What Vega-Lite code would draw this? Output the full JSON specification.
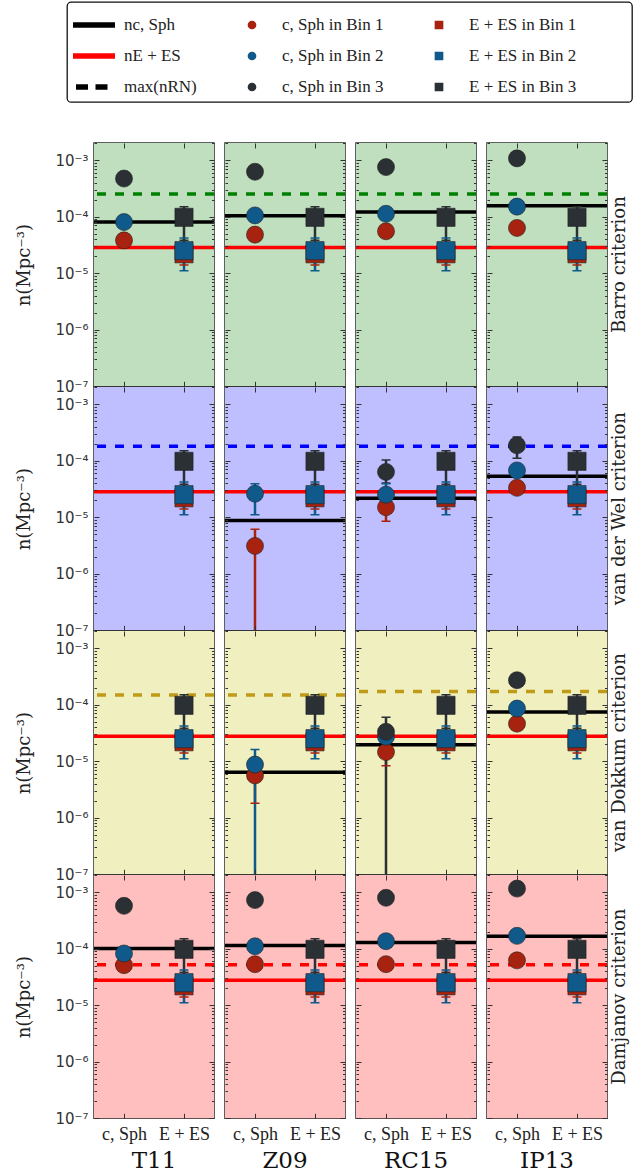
{
  "$schema": "https://vega.github.io/schema/vega-lite/v6.json",
  "background": "white",
  "padding": {"left": 15, "top": 1, "right": 0, "bottom": 0},
  "bounds": "flush",
  "data": {"values": [
    {"k":"bg","c":"Barro criterion","s":"T11"},{"k":"bg","c":"Barro criterion","s":"Z09"},{"k":"bg","c":"Barro criterion","s":"RC15"},{"k":"bg","c":"Barro criterion","s":"IP13"},
    {"k":"bg","c":"van der Wel criterion","s":"T11"},{"k":"bg","c":"van der Wel criterion","s":"Z09"},{"k":"bg","c":"van der Wel criterion","s":"RC15"},{"k":"bg","c":"van der Wel criterion","s":"IP13"},
    {"k":"bg","c":"van Dokkum criterion","s":"T11"},{"k":"bg","c":"van Dokkum criterion","s":"Z09"},{"k":"bg","c":"van Dokkum criterion","s":"RC15"},{"k":"bg","c":"van Dokkum criterion","s":"IP13"},
    {"k":"bg","c":"Damjanov criterion","s":"T11"},{"k":"bg","c":"Damjanov criterion","s":"Z09"},{"k":"bg","c":"Damjanov criterion","s":"RC15"},{"k":"bg","c":"Damjanov criterion","s":"IP13"},

    {"k":"ln","c":"Barro criterion","s":"T11","b":"max(nRN)","n":2.5e-4},{"k":"ln","c":"Barro criterion","s":"Z09","b":"max(nRN)","n":2.5e-4},{"k":"ln","c":"Barro criterion","s":"RC15","b":"max(nRN)","n":2.5e-4},{"k":"ln","c":"Barro criterion","s":"IP13","b":"max(nRN)","n":2.5e-4},
    {"k":"ln","c":"van der Wel criterion","s":"T11","b":"max(nRN)","n":1.8e-4},{"k":"ln","c":"van der Wel criterion","s":"Z09","b":"max(nRN)","n":1.8e-4},{"k":"ln","c":"van der Wel criterion","s":"RC15","b":"max(nRN)","n":1.8e-4},{"k":"ln","c":"van der Wel criterion","s":"IP13","b":"max(nRN)","n":1.8e-4},
    {"k":"ln","c":"van Dokkum criterion","s":"T11","b":"max(nRN)","n":1.48e-4},{"k":"ln","c":"van Dokkum criterion","s":"Z09","b":"max(nRN)","n":1.48e-4},{"k":"ln","c":"van Dokkum criterion","s":"RC15","b":"max(nRN)","n":1.7e-4},{"k":"ln","c":"van Dokkum criterion","s":"IP13","b":"max(nRN)","n":1.7e-4},
    {"k":"ln","c":"Damjanov criterion","s":"T11","b":"max(nRN)","n":5.2e-5},{"k":"ln","c":"Damjanov criterion","s":"Z09","b":"max(nRN)","n":5.2e-5},{"k":"ln","c":"Damjanov criterion","s":"RC15","b":"max(nRN)","n":5.2e-5},{"k":"ln","c":"Damjanov criterion","s":"IP13","b":"max(nRN)","n":5.2e-5},

    {"k":"ln","c":"Barro criterion","s":"T11","b":"nE + ES","n":2.85e-5},{"k":"ln","c":"Barro criterion","s":"Z09","b":"nE + ES","n":2.85e-5},{"k":"ln","c":"Barro criterion","s":"RC15","b":"nE + ES","n":2.85e-5},{"k":"ln","c":"Barro criterion","s":"IP13","b":"nE + ES","n":2.85e-5},
    {"k":"ln","c":"van der Wel criterion","s":"T11","b":"nE + ES","n":2.8e-5},{"k":"ln","c":"van der Wel criterion","s":"Z09","b":"nE + ES","n":2.8e-5},{"k":"ln","c":"van der Wel criterion","s":"RC15","b":"nE + ES","n":2.8e-5},{"k":"ln","c":"van der Wel criterion","s":"IP13","b":"nE + ES","n":2.8e-5},
    {"k":"ln","c":"van Dokkum criterion","s":"T11","b":"nE + ES","n":2.75e-5},{"k":"ln","c":"van Dokkum criterion","s":"Z09","b":"nE + ES","n":2.75e-5},{"k":"ln","c":"van Dokkum criterion","s":"RC15","b":"nE + ES","n":2.75e-5},{"k":"ln","c":"van Dokkum criterion","s":"IP13","b":"nE + ES","n":2.75e-5},
    {"k":"ln","c":"Damjanov criterion","s":"T11","b":"nE + ES","n":2.75e-5},{"k":"ln","c":"Damjanov criterion","s":"Z09","b":"nE + ES","n":2.75e-5},{"k":"ln","c":"Damjanov criterion","s":"RC15","b":"nE + ES","n":2.75e-5},{"k":"ln","c":"Damjanov criterion","s":"IP13","b":"nE + ES","n":2.75e-5},

    {"k":"ln","c":"Barro criterion","s":"T11","b":"nc, Sph","n":8.0e-5},{"k":"ln","c":"Barro criterion","s":"Z09","b":"nc, Sph","n":1.03e-4},{"k":"ln","c":"Barro criterion","s":"RC15","b":"nc, Sph","n":1.2e-4},{"k":"ln","c":"Barro criterion","s":"IP13","b":"nc, Sph","n":1.55e-4},
    {"k":"ln","c":"van der Wel criterion","s":"Z09","b":"nc, Sph","n":8.7e-6},{"k":"ln","c":"van der Wel criterion","s":"RC15","b":"nc, Sph","n":2.15e-5},{"k":"ln","c":"van der Wel criterion","s":"IP13","b":"nc, Sph","n":5.3e-5},
    {"k":"ln","c":"van Dokkum criterion","s":"Z09","b":"nc, Sph","n":6.4e-6},{"k":"ln","c":"van Dokkum criterion","s":"RC15","b":"nc, Sph","n":1.95e-5},{"k":"ln","c":"van Dokkum criterion","s":"IP13","b":"nc, Sph","n":7.4e-5},
    {"k":"ln","c":"Damjanov criterion","s":"T11","b":"nc, Sph","n":1.0e-4},{"k":"ln","c":"Damjanov criterion","s":"Z09","b":"nc, Sph","n":1.14e-4},{"k":"ln","c":"Damjanov criterion","s":"RC15","b":"nc, Sph","n":1.28e-4},{"k":"ln","c":"Damjanov criterion","s":"IP13","b":"nc, Sph","n":1.65e-4},

    {"k":"pt","c":"Barro criterion","s":"T11","g":"c, Sph","b":"c, Sph in Bin 1","n":3.8e-5},
    {"k":"pt","c":"Barro criterion","s":"T11","g":"c, Sph","b":"c, Sph in Bin 2","n":8.0e-5},
    {"k":"pt","c":"Barro criterion","s":"T11","g":"c, Sph","b":"c, Sph in Bin 3","n":4.7e-4},
    {"k":"pt","c":"Barro criterion","s":"Z09","g":"c, Sph","b":"c, Sph in Bin 1","n":4.8e-5},
    {"k":"pt","c":"Barro criterion","s":"Z09","g":"c, Sph","b":"c, Sph in Bin 2","n":1.05e-4},
    {"k":"pt","c":"Barro criterion","s":"Z09","g":"c, Sph","b":"c, Sph in Bin 3","n":6.2e-4},
    {"k":"pt","c":"Barro criterion","s":"RC15","g":"c, Sph","b":"c, Sph in Bin 1","n":5.5e-5},
    {"k":"pt","c":"Barro criterion","s":"RC15","g":"c, Sph","b":"c, Sph in Bin 2","n":1.12e-4},
    {"k":"pt","c":"Barro criterion","s":"RC15","g":"c, Sph","b":"c, Sph in Bin 3","n":7.5e-4},
    {"k":"pt","c":"Barro criterion","s":"IP13","g":"c, Sph","b":"c, Sph in Bin 1","n":6.3e-5},
    {"k":"pt","c":"Barro criterion","s":"IP13","g":"c, Sph","b":"c, Sph in Bin 2","n":1.5e-4},
    {"k":"pt","c":"Barro criterion","s":"IP13","g":"c, Sph","b":"c, Sph in Bin 3","n":1.07e-3},

    {"k":"pt","c":"van der Wel criterion","s":"Z09","g":"c, Sph","b":"c, Sph in Bin 1","n":3.1e-6,"lo":5e-8,"hi":6.1e-6},
    {"k":"pt","c":"van der Wel criterion","s":"Z09","g":"c, Sph","b":"c, Sph in Bin 2","n":2.6e-5,"lo":1.1e-5,"hi":3.9e-5},
    {"k":"pt","c":"van der Wel criterion","s":"RC15","g":"c, Sph","b":"c, Sph in Bin 1","n":1.5e-5,"lo":8.5e-6,"hi":2.3e-5},
    {"k":"pt","c":"van der Wel criterion","s":"RC15","g":"c, Sph","b":"c, Sph in Bin 2","n":2.5e-5,"lo":1.6e-5,"hi":3.9e-5},
    {"k":"pt","c":"van der Wel criterion","s":"RC15","g":"c, Sph","b":"c, Sph in Bin 3","n":6.3e-5,"lo":4.0e-5,"hi":1.02e-4},
    {"k":"pt","c":"van der Wel criterion","s":"IP13","g":"c, Sph","b":"c, Sph in Bin 1","n":3.3e-5},
    {"k":"pt","c":"van der Wel criterion","s":"IP13","g":"c, Sph","b":"c, Sph in Bin 2","n":6.7e-5},
    {"k":"pt","c":"van der Wel criterion","s":"IP13","g":"c, Sph","b":"c, Sph in Bin 3","n":1.86e-4,"lo":1.1e-4,"hi":2.6e-4},

    {"k":"pt","c":"van Dokkum criterion","s":"Z09","g":"c, Sph","b":"c, Sph in Bin 1","n":5.6e-6,"lo":1.8e-6,"hi":1.0e-5},
    {"k":"pt","c":"van Dokkum criterion","s":"Z09","g":"c, Sph","b":"c, Sph in Bin 2","n":8.7e-6,"lo":5e-8,"hi":1.6e-5},
    {"k":"pt","c":"van Dokkum criterion","s":"RC15","g":"c, Sph","b":"c, Sph in Bin 1","n":1.45e-5,"lo":8.3e-6,"hi":2.2e-5},
    {"k":"pt","c":"van Dokkum criterion","s":"RC15","g":"c, Sph","b":"c, Sph in Bin 2","n":2.7e-5},
    {"k":"pt","c":"van Dokkum criterion","s":"RC15","g":"c, Sph","b":"c, Sph in Bin 3","n":3.3e-5,"lo":5e-8,"hi":6.0e-5},
    {"k":"pt","c":"van Dokkum criterion","s":"IP13","g":"c, Sph","b":"c, Sph in Bin 1","n":4.6e-5},
    {"k":"pt","c":"van Dokkum criterion","s":"IP13","g":"c, Sph","b":"c, Sph in Bin 2","n":8.5e-5},
    {"k":"pt","c":"van Dokkum criterion","s":"IP13","g":"c, Sph","b":"c, Sph in Bin 3","n":2.7e-4},

    {"k":"pt","c":"Damjanov criterion","s":"T11","g":"c, Sph","b":"c, Sph in Bin 1","n":5.1e-5},
    {"k":"pt","c":"Damjanov criterion","s":"T11","g":"c, Sph","b":"c, Sph in Bin 2","n":8.2e-5},
    {"k":"pt","c":"Damjanov criterion","s":"T11","g":"c, Sph","b":"c, Sph in Bin 3","n":5.7e-4},
    {"k":"pt","c":"Damjanov criterion","s":"Z09","g":"c, Sph","b":"c, Sph in Bin 1","n":5.3e-5},
    {"k":"pt","c":"Damjanov criterion","s":"Z09","g":"c, Sph","b":"c, Sph in Bin 2","n":1.1e-4},
    {"k":"pt","c":"Damjanov criterion","s":"Z09","g":"c, Sph","b":"c, Sph in Bin 3","n":7.2e-4},
    {"k":"pt","c":"Damjanov criterion","s":"RC15","g":"c, Sph","b":"c, Sph in Bin 1","n":5.3e-5},
    {"k":"pt","c":"Damjanov criterion","s":"RC15","g":"c, Sph","b":"c, Sph in Bin 2","n":1.35e-4},
    {"k":"pt","c":"Damjanov criterion","s":"RC15","g":"c, Sph","b":"c, Sph in Bin 3","n":7.9e-4},
    {"k":"pt","c":"Damjanov criterion","s":"IP13","g":"c, Sph","b":"c, Sph in Bin 1","n":6.2e-5},
    {"k":"pt","c":"Damjanov criterion","s":"IP13","g":"c, Sph","b":"c, Sph in Bin 2","n":1.68e-4},
    {"k":"pt","c":"Damjanov criterion","s":"IP13","g":"c, Sph","b":"c, Sph in Bin 3","n":1.15e-3},

    {"k":"pt","c":"Barro criterion","s":"T11","g":"E + ES","b":"E + ES in Bin 1","n":2.2e-5,"lo":1.4e-5,"hi":3.2e-5},{"k":"pt","c":"Barro criterion","s":"T11","g":"E + ES","b":"E + ES in Bin 2","n":2.5e-5,"lo":1.1e-5,"hi":4.2e-5},{"k":"pt","c":"Barro criterion","s":"T11","g":"E + ES","b":"E + ES in Bin 3","n":9.7e-5,"lo":3.8e-5,"hi":1.5e-4},
    {"k":"pt","c":"Barro criterion","s":"Z09","g":"E + ES","b":"E + ES in Bin 1","n":2.2e-5,"lo":1.4e-5,"hi":3.2e-5},{"k":"pt","c":"Barro criterion","s":"Z09","g":"E + ES","b":"E + ES in Bin 2","n":2.5e-5,"lo":1.1e-5,"hi":4.2e-5},{"k":"pt","c":"Barro criterion","s":"Z09","g":"E + ES","b":"E + ES in Bin 3","n":9.7e-5,"lo":3.8e-5,"hi":1.5e-4},
    {"k":"pt","c":"Barro criterion","s":"RC15","g":"E + ES","b":"E + ES in Bin 1","n":2.2e-5,"lo":1.4e-5,"hi":3.2e-5},{"k":"pt","c":"Barro criterion","s":"RC15","g":"E + ES","b":"E + ES in Bin 2","n":2.5e-5,"lo":1.1e-5,"hi":4.2e-5},{"k":"pt","c":"Barro criterion","s":"RC15","g":"E + ES","b":"E + ES in Bin 3","n":9.7e-5,"lo":3.8e-5,"hi":1.5e-4},
    {"k":"pt","c":"Barro criterion","s":"IP13","g":"E + ES","b":"E + ES in Bin 1","n":2.2e-5,"lo":1.4e-5,"hi":3.2e-5},{"k":"pt","c":"Barro criterion","s":"IP13","g":"E + ES","b":"E + ES in Bin 2","n":2.5e-5,"lo":1.1e-5,"hi":4.2e-5},{"k":"pt","c":"Barro criterion","s":"IP13","g":"E + ES","b":"E + ES in Bin 3","n":9.7e-5,"lo":3.8e-5,"hi":1.5e-4},
    {"k":"pt","c":"van der Wel criterion","s":"T11","g":"E + ES","b":"E + ES in Bin 1","n":2.2e-5,"lo":1.4e-5,"hi":3.2e-5},{"k":"pt","c":"van der Wel criterion","s":"T11","g":"E + ES","b":"E + ES in Bin 2","n":2.5e-5,"lo":1.1e-5,"hi":4.2e-5},{"k":"pt","c":"van der Wel criterion","s":"T11","g":"E + ES","b":"E + ES in Bin 3","n":9.7e-5,"lo":3.8e-5,"hi":1.5e-4},
    {"k":"pt","c":"van der Wel criterion","s":"Z09","g":"E + ES","b":"E + ES in Bin 1","n":2.2e-5,"lo":1.4e-5,"hi":3.2e-5},{"k":"pt","c":"van der Wel criterion","s":"Z09","g":"E + ES","b":"E + ES in Bin 2","n":2.5e-5,"lo":1.1e-5,"hi":4.2e-5},{"k":"pt","c":"van der Wel criterion","s":"Z09","g":"E + ES","b":"E + ES in Bin 3","n":9.7e-5,"lo":3.8e-5,"hi":1.5e-4},
    {"k":"pt","c":"van der Wel criterion","s":"RC15","g":"E + ES","b":"E + ES in Bin 1","n":2.2e-5,"lo":1.4e-5,"hi":3.2e-5},{"k":"pt","c":"van der Wel criterion","s":"RC15","g":"E + ES","b":"E + ES in Bin 2","n":2.5e-5,"lo":1.1e-5,"hi":4.2e-5},{"k":"pt","c":"van der Wel criterion","s":"RC15","g":"E + ES","b":"E + ES in Bin 3","n":9.7e-5,"lo":3.8e-5,"hi":1.5e-4},
    {"k":"pt","c":"van der Wel criterion","s":"IP13","g":"E + ES","b":"E + ES in Bin 1","n":2.2e-5,"lo":1.4e-5,"hi":3.2e-5},{"k":"pt","c":"van der Wel criterion","s":"IP13","g":"E + ES","b":"E + ES in Bin 2","n":2.5e-5,"lo":1.1e-5,"hi":4.2e-5},{"k":"pt","c":"van der Wel criterion","s":"IP13","g":"E + ES","b":"E + ES in Bin 3","n":9.7e-5,"lo":3.8e-5,"hi":1.5e-4},
    {"k":"pt","c":"van Dokkum criterion","s":"T11","g":"E + ES","b":"E + ES in Bin 1","n":2.2e-5,"lo":1.4e-5,"hi":3.2e-5},{"k":"pt","c":"van Dokkum criterion","s":"T11","g":"E + ES","b":"E + ES in Bin 2","n":2.5e-5,"lo":1.1e-5,"hi":4.2e-5},{"k":"pt","c":"van Dokkum criterion","s":"T11","g":"E + ES","b":"E + ES in Bin 3","n":9.7e-5,"lo":3.8e-5,"hi":1.5e-4},
    {"k":"pt","c":"van Dokkum criterion","s":"Z09","g":"E + ES","b":"E + ES in Bin 1","n":2.2e-5,"lo":1.4e-5,"hi":3.2e-5},{"k":"pt","c":"van Dokkum criterion","s":"Z09","g":"E + ES","b":"E + ES in Bin 2","n":2.5e-5,"lo":1.1e-5,"hi":4.2e-5},{"k":"pt","c":"van Dokkum criterion","s":"Z09","g":"E + ES","b":"E + ES in Bin 3","n":9.7e-5,"lo":3.8e-5,"hi":1.5e-4},
    {"k":"pt","c":"van Dokkum criterion","s":"RC15","g":"E + ES","b":"E + ES in Bin 1","n":2.2e-5,"lo":1.4e-5,"hi":3.2e-5},{"k":"pt","c":"van Dokkum criterion","s":"RC15","g":"E + ES","b":"E + ES in Bin 2","n":2.5e-5,"lo":1.1e-5,"hi":4.2e-5},{"k":"pt","c":"van Dokkum criterion","s":"RC15","g":"E + ES","b":"E + ES in Bin 3","n":9.7e-5,"lo":3.8e-5,"hi":1.5e-4},
    {"k":"pt","c":"van Dokkum criterion","s":"IP13","g":"E + ES","b":"E + ES in Bin 1","n":2.2e-5,"lo":1.4e-5,"hi":3.2e-5},{"k":"pt","c":"van Dokkum criterion","s":"IP13","g":"E + ES","b":"E + ES in Bin 2","n":2.5e-5,"lo":1.1e-5,"hi":4.2e-5},{"k":"pt","c":"van Dokkum criterion","s":"IP13","g":"E + ES","b":"E + ES in Bin 3","n":9.7e-5,"lo":3.8e-5,"hi":1.5e-4},
    {"k":"pt","c":"Damjanov criterion","s":"T11","g":"E + ES","b":"E + ES in Bin 1","n":2.2e-5,"lo":1.4e-5,"hi":3.2e-5},{"k":"pt","c":"Damjanov criterion","s":"T11","g":"E + ES","b":"E + ES in Bin 2","n":2.5e-5,"lo":1.1e-5,"hi":4.2e-5},{"k":"pt","c":"Damjanov criterion","s":"T11","g":"E + ES","b":"E + ES in Bin 3","n":9.7e-5,"lo":3.8e-5,"hi":1.5e-4},
    {"k":"pt","c":"Damjanov criterion","s":"Z09","g":"E + ES","b":"E + ES in Bin 1","n":2.2e-5,"lo":1.4e-5,"hi":3.2e-5},{"k":"pt","c":"Damjanov criterion","s":"Z09","g":"E + ES","b":"E + ES in Bin 2","n":2.5e-5,"lo":1.1e-5,"hi":4.2e-5},{"k":"pt","c":"Damjanov criterion","s":"Z09","g":"E + ES","b":"E + ES in Bin 3","n":9.7e-5,"lo":3.8e-5,"hi":1.5e-4},
    {"k":"pt","c":"Damjanov criterion","s":"RC15","g":"E + ES","b":"E + ES in Bin 1","n":2.2e-5,"lo":1.4e-5,"hi":3.2e-5},{"k":"pt","c":"Damjanov criterion","s":"RC15","g":"E + ES","b":"E + ES in Bin 2","n":2.5e-5,"lo":1.1e-5,"hi":4.2e-5},{"k":"pt","c":"Damjanov criterion","s":"RC15","g":"E + ES","b":"E + ES in Bin 3","n":9.7e-5,"lo":3.8e-5,"hi":1.5e-4},
    {"k":"pt","c":"Damjanov criterion","s":"IP13","g":"E + ES","b":"E + ES in Bin 1","n":2.2e-5,"lo":1.4e-5,"hi":3.2e-5},{"k":"pt","c":"Damjanov criterion","s":"IP13","g":"E + ES","b":"E + ES in Bin 2","n":2.5e-5,"lo":1.1e-5,"hi":4.2e-5},{"k":"pt","c":"Damjanov criterion","s":"IP13","g":"E + ES","b":"E + ES in Bin 3","n":9.7e-5,"lo":3.8e-5,"hi":1.5e-4}
  ]},
  "facet": {
    "row": {"field": "c", "type": "nominal", "title": null,
      "sort": ["Barro criterion", "van der Wel criterion", "van Dokkum criterion", "Damjanov criterion"],
      "header": {"labelOrient": "right", "labelAngle": -90, "labelFont": "DejaVu Serif", "labelFontSize": 18, "labelPadding": -5, "labelColor": "#222"}},
    "column": {"field": "s", "type": "nominal", "title": null,
      "sort": ["T11", "Z09", "RC15", "IP13"],
      "header": {"labelOrient": "bottom", "labelFont": "DejaVu Serif", "labelFontSize": 23, "labelPadding": 7, "labelColor": "#111"}}
  },
  "spacing": {"row": 0, "column": 11},
  "spec": {
    "width": 120,
    "height": 243.3,
    "encoding": {
      "x": {"field": "g", "type": "nominal", "scale": {"type": "point", "domain": ["c, Sph", "E + ES"], "padding": 0.5},
        "axis": {"title": null, "ticks": false, "domain": false, "labelAngle": 0, "labelFont": "Liberation Serif", "labelFontSize": 18, "labelColor": "#222", "labelPadding": 6,
          "grid": true, "gridColor": "#333", "gridWidth": 1, "gridOpacity": 1, "gridDash": [5, 233.3], "zindex": 1}},
      "y": {"field": "n", "type": "quantitative", "scale": {"type": "log", "domain": [1e-7, 2e-3], "nice": false},
        "axis": {"title": "n(Mpc⁻³)", "titleFont": "DejaVu Serif", "titleFontSize": 18, "titleFontWeight": "normal", "titleColor": "#222", "titlePadding": 21,
          "values": [1e-7,2e-7,3e-7,4e-7,5e-7,6e-7,7e-7,8e-7,9e-7,1e-6,2e-6,3e-6,4e-6,5e-6,6e-6,7e-6,8e-6,9e-6,1e-5,2e-5,3e-5,4e-5,5e-5,6e-5,7e-5,8e-5,9e-5,1e-4,2e-4,3e-4,4e-4,5e-4,6e-4,7e-4,8e-4,9e-4,1e-3,2e-3],
          "labelExpr": "abs(log(datum.value)/LN10 - round(log(datum.value)/LN10)) < 0.001 ? '10' + ['⁻⁷','⁻⁶','⁻⁵','⁻⁴','⁻³'][round(log(datum.value)/LN10) + 7] : ''",
          "labelOverlap": false, "labelBound": false, "labelFlush": false, "labelFont": "DejaVu Sans", "labelFontSize": 15, "labelColor": "#333", "labelPadding": 6,
          "ticks": false, "domain": false, "grid": true, "gridColor": "#333", "gridWidth": 1, "gridOpacity": 1,
          "gridDash": {"condition": {"test": "abs(log(datum.value)/LN10 - round(log(datum.value)/LN10)) < 0.001", "value": [5, 110]}, "value": [2.5, 115]},
          "zindex": 1}}
    },
    "layer": [
      {"transform": [{"filter": "datum.k === 'bg'"}],
       "mark": {"type": "rect"},
       "encoding": {"x": null, "y": null,
         "fill": {"field": "c", "type": "nominal", "legend": null,
           "scale": {"domain": ["Barro criterion", "van der Wel criterion", "van Dokkum criterion", "Damjanov criterion"], "range": ["#bfdfbf", "#bfbfff", "#efefbf", "#ffbfbf"]}}}},
      {"transform": [{"filter": "datum.k === 'ln' && datum.b === 'max(nRN)'"}],
       "mark": {"type": "rule", "strokeWidth": 3.5, "strokeDash": [9, 9]},
       "encoding": {"x": null,
         "stroke": {"field": "c", "type": "nominal", "legend": null,
           "scale": {"domain": ["Barro criterion", "van der Wel criterion", "van Dokkum criterion", "Damjanov criterion"], "range": ["#008000", "#0000ff", "#bf9b18", "#ff0000"]}}}},
      {"transform": [{"filter": "datum.k === 'ln' && datum.b !== 'max(nRN)'"}],
       "mark": {"type": "rule", "strokeWidth": 3.5},
       "encoding": {"x": null,
         "color": {"field": "b", "type": "nominal",
           "scale": {"domain": ["nc, Sph", "c, Sph in Bin 1", "E + ES in Bin 1", "nE + ES", "c, Sph in Bin 2", "E + ES in Bin 2", "max(nRN)", "c, Sph in Bin 3", "E + ES in Bin 3"],
                     "range": ["#000000", "#a8230f", "#a8230f", "#ff0000", "#0f5a8b", "#0f5a8b", "#000000", "#2b3035", "#2b3035"]},
           "legend": {"orient": "none", "legendX": -27, "legendY": -141, "columns": 3, "direction": "horizontal", "title": null,
             "values": ["nc, Sph", "c, Sph in Bin 1", "E + ES in Bin 1", "nE + ES", "c, Sph in Bin 2", "E + ES in Bin 2", "max(nRN)", "c, Sph in Bin 3", "E + ES in Bin 3"],
             "strokeColor": "#111", "cornerRadius": 4, "padding": 7, "fillColor": "white",
             "labelFont": "Liberation Serif", "labelFontSize": 17, "labelColor": "#222", "labelLimit": 300, "labelOffset": 14,
             "columnPadding": 35, "rowPadding": 7, "symbolSize": 900,
             "encode": {
               "legend": {"update": {"strokeWidth": {"value": 1.3}}},
               "labels": {"update": {"x": {"value": 50}}},
               "symbols": {"update": {
               "x": {"value": 20},
               "shape": {"signal": "datum.value === 'nc, Sph' || datum.value === 'nE + ES' ? 'M-1.35,-0.13H1.35V0.13H-1.35Z' : datum.value === 'max(nRN)' ? 'M-1.15,-0.13H-0.45V0.13H-1.15Z M0.15,-0.13H0.85V0.13H0.15Z' : indexof(datum.value, 'c, Sph') === 0 ? 'M-0.24,0A0.24,0.24 0 1,0 0.24,0A0.24,0.24 0 1,0 -0.24,0Z' : 'M12.2,0L12.2,0Z M-0.24,-0.24H0.24V0.24H-0.24Z'"},
               "fill": {"scale": "color", "field": "value"},
               "stroke": {"value": "transparent"},
               "size": {"value": 900},
               "opacity": {"value": 1}}}}}}}},
      {"transform": [{"filter": "datum.k === 'pt' && isValid(datum.lo)"}],
       "mark": {"type": "rule", "strokeWidth": 2.5, "clip": true},
       "encoding": {"y": {"field": "lo", "type": "quantitative"}, "y2": {"field": "hi"}, "color": {"field": "b", "type": "nominal"}}},
      {"transform": [{"filter": "datum.k === 'pt' && isValid(datum.lo)"}],
       "mark": {"type": "tick", "thickness": 1.5, "size": 9, "clip": true, "opacity": 1},
       "encoding": {"y": {"field": "lo", "type": "quantitative"}, "color": {"field": "b", "type": "nominal"}}},
      {"transform": [{"filter": "datum.k === 'pt' && isValid(datum.hi)"}],
       "mark": {"type": "tick", "thickness": 1.5, "size": 9, "clip": true, "opacity": 1},
       "encoding": {"y": {"field": "hi", "type": "quantitative"}, "color": {"field": "b", "type": "nominal"}}},
      {"transform": [{"filter": "datum.k === 'pt' && datum.g === 'c, Sph'"}],
       "mark": {"type": "point", "shape": "circle", "filled": true, "size": 290, "opacity": 1, "stroke": "#222", "strokeWidth": 0.6},
       "encoding": {"color": {"field": "b", "type": "nominal"}}},
      {"transform": [{"filter": "datum.k === 'pt' && datum.g === 'E + ES'"}],
       "mark": {"type": "point", "shape": "square", "filled": true, "size": 330, "opacity": 1, "stroke": "#222", "strokeWidth": 0.6},
       "encoding": {"color": {"field": "b", "type": "nominal"}}}
    ]
  },
  "config": {
    "view": {"stroke": "#2b2b2b", "strokeWidth": 1.5},
    "axis": {"labelFont": "DejaVu Sans"}
  }
}
